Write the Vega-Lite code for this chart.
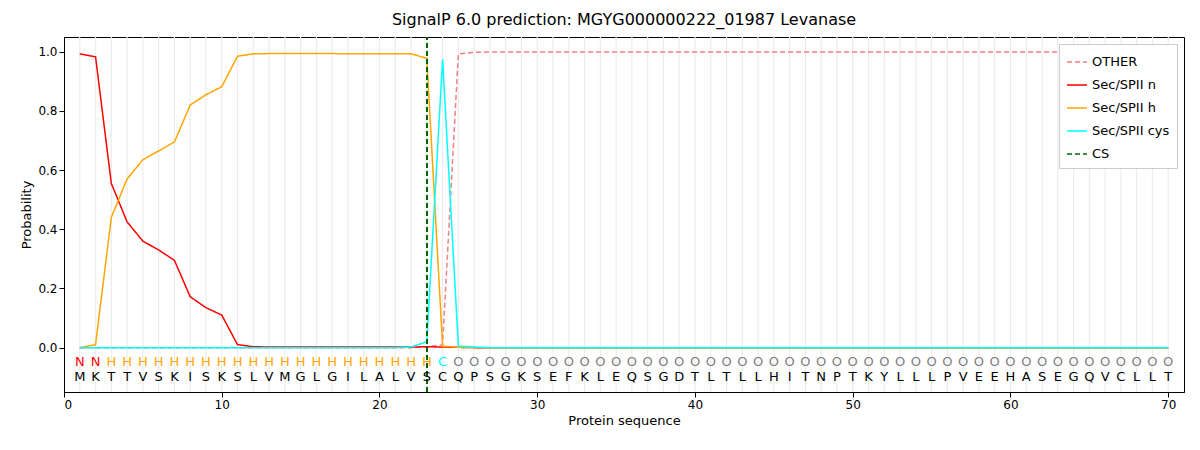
{
  "$schema": "https://vega.github.io/schema/vega-lite/v6.json",
  "width": 1120,
  "height": 355,
  "padding": {"left": 20, "top": 12, "right": 5, "bottom": 5},
  "title": {"text": "SignalP 6.0 prediction: MGYG000000222_01987 Levanase", "fontSize": 16, "fontWeight": "normal", "font": "DejaVu Sans", "color": "black", "offset": 8},
  "config": {"font": "DejaVu Sans", "axis": {"labelFont": "DejaVu Sans", "titleFont": "DejaVu Sans", "labelFontSize": 12, "titleFontSize": 13, "titleFontWeight": "normal", "grid": false, "domainColor": "black", "tickColor": "black", "labelColor": "black"}, "view": {"stroke": "black"}},
  "data": {"values": [
    {"pos":1,"aa":"M","lab":"N","other":0,"n":0.993,"h":0.0,"cys":0},
    {"pos":2,"aa":"K","lab":"N","other":0,"n":0.983,"h":0.01,"cys":0},
    {"pos":3,"aa":"T","lab":"H","other":0,"n":0.555,"h":0.44,"cys":0},
    {"pos":4,"aa":"T","lab":"H","other":0,"n":0.425,"h":0.57,"cys":0},
    {"pos":5,"aa":"V","lab":"H","other":0,"n":0.36,"h":0.635,"cys":0},
    {"pos":6,"aa":"S","lab":"H","other":0,"n":0.33,"h":0.665,"cys":0},
    {"pos":7,"aa":"K","lab":"H","other":0,"n":0.295,"h":0.695,"cys":0},
    {"pos":8,"aa":"I","lab":"H","other":0,"n":0.172,"h":0.82,"cys":0},
    {"pos":9,"aa":"S","lab":"H","other":0,"n":0.135,"h":0.855,"cys":0},
    {"pos":10,"aa":"K","lab":"H","other":0,"n":0.11,"h":0.882,"cys":0},
    {"pos":11,"aa":"S","lab":"H","other":0,"n":0.01,"h":0.985,"cys":0},
    {"pos":12,"aa":"L","lab":"H","other":0,"n":0.003,"h":0.993,"cys":0},
    {"pos":13,"aa":"V","lab":"H","other":0,"n":0.002,"h":0.994,"cys":0},
    {"pos":14,"aa":"M","lab":"H","other":0,"n":0.002,"h":0.994,"cys":0},
    {"pos":15,"aa":"G","lab":"H","other":0,"n":0.002,"h":0.994,"cys":0},
    {"pos":16,"aa":"L","lab":"H","other":0,"n":0.002,"h":0.994,"cys":0},
    {"pos":17,"aa":"G","lab":"H","other":0,"n":0.002,"h":0.994,"cys":0},
    {"pos":18,"aa":"I","lab":"H","other":0,"n":0.002,"h":0.993,"cys":0},
    {"pos":19,"aa":"L","lab":"H","other":0,"n":0.002,"h":0.993,"cys":0},
    {"pos":20,"aa":"A","lab":"H","other":0,"n":0.002,"h":0.993,"cys":0},
    {"pos":21,"aa":"L","lab":"H","other":0,"n":0.002,"h":0.993,"cys":0},
    {"pos":22,"aa":"V","lab":"H","other":0,"n":0.002,"h":0.993,"cys":0.002},
    {"pos":23,"aa":"S","lab":"H","other":0.002,"n":0.003,"h":0.978,"cys":0.02},
    {"pos":24,"aa":"C","lab":"C","other":0.01,"n":0.002,"h":0.005,"cys":0.975},
    {"pos":25,"aa":"Q","lab":"O","other":0.993,"n":0.001,"h":0.001,"cys":0.005},
    {"pos":26,"aa":"P","lab":"O","other":0.998,"n":0,"h":0,"cys":0.002},
    {"pos":27,"aa":"S","lab":"O","other":0.999,"n":0,"h":0,"cys":0},
    {"pos":28,"aa":"G","lab":"O","other":0.999,"n":0,"h":0,"cys":0},
    {"pos":29,"aa":"K","lab":"O","other":0.999,"n":0,"h":0,"cys":0},
    {"pos":30,"aa":"S","lab":"O","other":0.999,"n":0,"h":0,"cys":0},
    {"pos":31,"aa":"E","lab":"O","other":0.999,"n":0,"h":0,"cys":0},
    {"pos":32,"aa":"F","lab":"O","other":0.999,"n":0,"h":0,"cys":0},
    {"pos":33,"aa":"K","lab":"O","other":0.999,"n":0,"h":0,"cys":0},
    {"pos":34,"aa":"L","lab":"O","other":0.999,"n":0,"h":0,"cys":0},
    {"pos":35,"aa":"E","lab":"O","other":0.999,"n":0,"h":0,"cys":0},
    {"pos":36,"aa":"Q","lab":"O","other":0.999,"n":0,"h":0,"cys":0},
    {"pos":37,"aa":"S","lab":"O","other":0.999,"n":0,"h":0,"cys":0},
    {"pos":38,"aa":"G","lab":"O","other":0.999,"n":0,"h":0,"cys":0},
    {"pos":39,"aa":"D","lab":"O","other":0.999,"n":0,"h":0,"cys":0},
    {"pos":40,"aa":"T","lab":"O","other":0.999,"n":0,"h":0,"cys":0},
    {"pos":41,"aa":"L","lab":"O","other":0.999,"n":0,"h":0,"cys":0},
    {"pos":42,"aa":"T","lab":"O","other":0.999,"n":0,"h":0,"cys":0},
    {"pos":43,"aa":"L","lab":"O","other":0.999,"n":0,"h":0,"cys":0},
    {"pos":44,"aa":"L","lab":"O","other":0.999,"n":0,"h":0,"cys":0},
    {"pos":45,"aa":"H","lab":"O","other":0.999,"n":0,"h":0,"cys":0},
    {"pos":46,"aa":"I","lab":"O","other":0.999,"n":0,"h":0,"cys":0},
    {"pos":47,"aa":"T","lab":"O","other":0.999,"n":0,"h":0,"cys":0},
    {"pos":48,"aa":"N","lab":"O","other":0.999,"n":0,"h":0,"cys":0},
    {"pos":49,"aa":"P","lab":"O","other":0.999,"n":0,"h":0,"cys":0},
    {"pos":50,"aa":"T","lab":"O","other":0.999,"n":0,"h":0,"cys":0},
    {"pos":51,"aa":"K","lab":"O","other":0.999,"n":0,"h":0,"cys":0},
    {"pos":52,"aa":"Y","lab":"O","other":0.999,"n":0,"h":0,"cys":0},
    {"pos":53,"aa":"L","lab":"O","other":0.999,"n":0,"h":0,"cys":0},
    {"pos":54,"aa":"L","lab":"O","other":0.999,"n":0,"h":0,"cys":0},
    {"pos":55,"aa":"L","lab":"O","other":0.999,"n":0,"h":0,"cys":0},
    {"pos":56,"aa":"P","lab":"O","other":0.999,"n":0,"h":0,"cys":0},
    {"pos":57,"aa":"V","lab":"O","other":0.999,"n":0,"h":0,"cys":0},
    {"pos":58,"aa":"E","lab":"O","other":0.999,"n":0,"h":0,"cys":0},
    {"pos":59,"aa":"E","lab":"O","other":0.999,"n":0,"h":0,"cys":0},
    {"pos":60,"aa":"H","lab":"O","other":0.999,"n":0,"h":0,"cys":0},
    {"pos":61,"aa":"A","lab":"O","other":0.999,"n":0,"h":0,"cys":0},
    {"pos":62,"aa":"S","lab":"O","other":0.999,"n":0,"h":0,"cys":0},
    {"pos":63,"aa":"E","lab":"O","other":0.999,"n":0,"h":0,"cys":0},
    {"pos":64,"aa":"G","lab":"O","other":0.999,"n":0,"h":0,"cys":0},
    {"pos":65,"aa":"Q","lab":"O","other":0.999,"n":0,"h":0,"cys":0},
    {"pos":66,"aa":"V","lab":"O","other":0.999,"n":0,"h":0,"cys":0},
    {"pos":67,"aa":"C","lab":"O","other":0.999,"n":0,"h":0,"cys":0},
    {"pos":68,"aa":"L","lab":"O","other":0.999,"n":0,"h":0,"cys":0},
    {"pos":69,"aa":"L","lab":"O","other":0.999,"n":0,"h":0,"cys":0},
    {"pos":70,"aa":"T","lab":"O","other":0.999,"n":0,"h":0,"cys":0}
  ]},
  "layer": [
    {
      "mark": {"type": "rule", "color": "#ececec", "strokeWidth": 1.2},
      "encoding": {
        "x": {"field": "pos", "type": "quantitative", "scale": {"domain": [0, 71], "nice": false}, "axis": {"title": "Protein sequence", "values": [0,10,20,30,40,50,60,70]}},
        "y": {"datum": -0.15, "type": "quantitative", "scale": {"domain": [-0.15, 1.05], "nice": false}},
        "y2": {"datum": 1.05}
      }
    },
    {
      "transform": [
        {"fold": ["other", "n", "h", "cys"], "as": ["key", "prob"]},
        {"calculate": "datum.key == 'other' ? 'OTHER' : datum.key == 'n' ? 'Sec/SPII n' : datum.key == 'h' ? 'Sec/SPII h' : 'Sec/SPII cys'", "as": "series"}
      ],
      "mark": {"type": "line", "strokeWidth": 1.5},
      "encoding": {
        "x": {"field": "pos", "type": "quantitative"},
        "y": {"field": "prob", "type": "quantitative", "axis": {"title": "Probability", "values": [0, 0.2, 0.4, 0.6, 0.8, 1.0], "format": ".1f"}},
        "color": {"field": "series", "type": "nominal", "scale": {"domain": ["OTHER", "Sec/SPII n", "Sec/SPII h", "Sec/SPII cys", "CS"], "range": ["#f08080", "#ff0000", "#ffa500", "#00ffff", "#006400"]}, "legend": {"title": null, "orient": "top-right", "offset": 7, "symbolType": "stroke", "labelFontSize": 13, "fillColor": "white", "strokeColor": "#cccccc", "padding": 7, "symbolSize": 400, "rowPadding": 5}},
        "strokeDash": {"field": "series", "type": "nominal", "scale": {"domain": ["OTHER", "Sec/SPII n", "Sec/SPII h", "Sec/SPII cys", "CS"], "range": [[5, 3], [1, 0], [1, 0], [1, 0], [5, 3]]}, "legend": null},
        "order": {"field": "pos"}
      }
    },
    {
      "mark": {"type": "rule", "strokeWidth": 1.5, "strokeDash": [5, 3], "color": "#006400"},
      "encoding": {
        "x": {"datum": 23, "type": "quantitative"},
        "y": {"datum": -0.15, "type": "quantitative"},
        "y2": {"datum": 1.05}
      }
    },
    {
      "mark": {"type": "text", "fontSize": 13, "font": "DejaVu Sans"},
      "encoding": {
        "x": {"field": "pos", "type": "quantitative"},
        "y": {"datum": -0.047, "type": "quantitative"},
        "text": {"field": "lab"},
        "color": {"condition": [
          {"test": "datum.lab == 'N'", "value": "red"},
          {"test": "datum.lab == 'H'", "value": "orange"},
          {"test": "datum.lab == 'C'", "value": "cyan"}
        ], "value": "gray"}
      }
    },
    {
      "mark": {"type": "text", "fontSize": 13, "font": "DejaVu Sans", "color": "black"},
      "encoding": {
        "x": {"field": "pos", "type": "quantitative"},
        "y": {"datum": -0.1, "type": "quantitative"},
        "text": {"field": "aa"}
      }
    }
  ]
}
